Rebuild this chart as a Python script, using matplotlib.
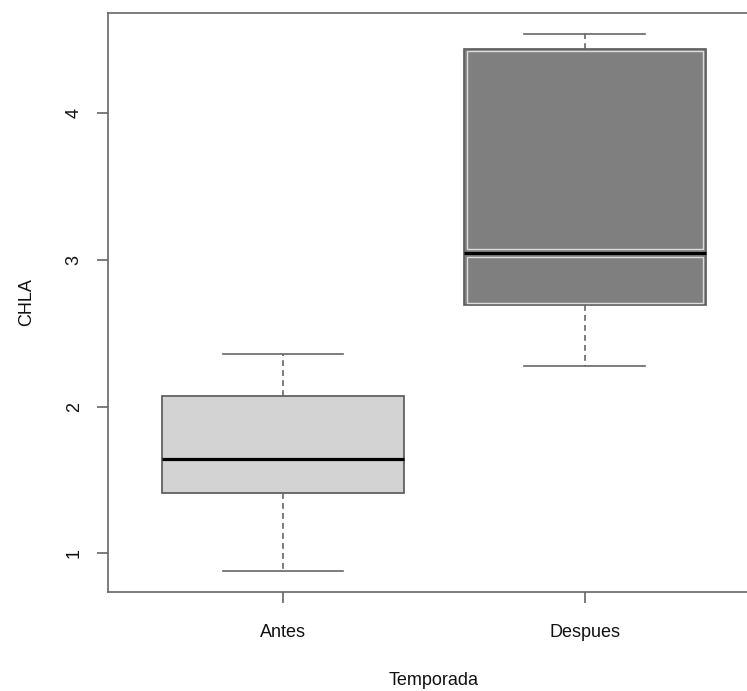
import matplotlib
matplotlib.use("Agg")
import matplotlib.pyplot as plt
from matplotlib.patches import Rectangle

plt.rcParams['font.family'] = ['Liberation Sans', 'DejaVu Sans']

# data
groups = ['Antes', 'Despues']
whis_low = [0.88, 2.28]
q1 = [1.41, 2.69]
medians = [1.64, 3.05]
q3 = [2.07, 4.44]
whis_high = [2.36, 4.54]
box_colors = ['#d3d3d3', '#7f7f7f']
positions = [1, 2]

fig = plt.figure(figsize=(7.47, 6.91), dpi=100)
# right spine falls just outside the picture, as in the original
ax = fig.add_axes([0.1443, 0.1437, 0.8731, 0.8382])

stats = []
for g, lo, a, m, b, hi in zip(groups, whis_low, q1, medians, q3, whis_high):
    stats.append(dict(label=g, whislo=lo, q1=a, med=m, q3=b, whishi=hi))

res = ax.bxp(stats, positions=positions, widths=0.8, capwidths=0.4,
             patch_artist=True, showfliers=False,
             boxprops=dict(edgecolor='#555555', linewidth=1.2),
             medianprops=dict(color='black', linewidth=2.3, solid_capstyle='butt'),
             whiskerprops=dict(color='#666666', linewidth=1.2, linestyle=(0, (3.5, 2.5))),
             capprops=dict(color='#666666', linewidth=1.2))

for box, c in zip(res['boxes'], box_colors):
    box.set_facecolor(c)

ax.set_xlim(0.42, 2.58)
ax.set_ylim(0.738, 4.687)

# light inner outline on the dark box (two halves split at the median)
bb = ax.get_window_extent()
sx = bb.width / (2.58 - 0.42)
sy = bb.height / (4.687 - 0.738)
i = 1
ix = 3.0 / sx
iy = 2.2 / sy
im = 4.0 / sy
x0 = positions[i] - 0.4 + ix
w = 0.8 - 2 * ix
for y0, y1 in [(q1[i] + iy, medians[i] - im), (medians[i] + im, q3[i] - iy)]:
    ax.add_patch(Rectangle((x0, y0), w, y1 - y0, facecolor='none',
                           edgecolor='#dcdcdc', linewidth=1.0, zorder=3))
res['boxes'][i].set_edgecolor('#5a5a5a')

for side in ['top', 'bottom', 'left', 'right']:
    ax.spines[side].set_color('#666666')
    ax.spines[side].set_linewidth(1.2)

ax.set_xticks(positions)
ax.set_xticklabels(groups)
ax.set_yticks([1, 2, 3, 4])
ax.set_yticklabels(['1', '2', '3', '4'])
ax.tick_params(axis='both', colors='#666666', labelcolor='#111111',
               length=8, width=1.2, labelsize=13)
ax.tick_params(axis='x', pad=15)
ax.tick_params(axis='y', pad=10, labelrotation=90)
for t in ax.get_yticklabels():
    t.set_va('center')

ax.set_xlabel('Temporada', fontsize=13, color='#111111', va='center')
ax.set_ylabel('CHLA', fontsize=13, color='#111111', va='center')
ax.xaxis.set_label_coords(0.5, -0.154)
ax.yaxis.set_label_coords(-0.125, 0.5)

fig.savefig('out.png', dpi=100)
